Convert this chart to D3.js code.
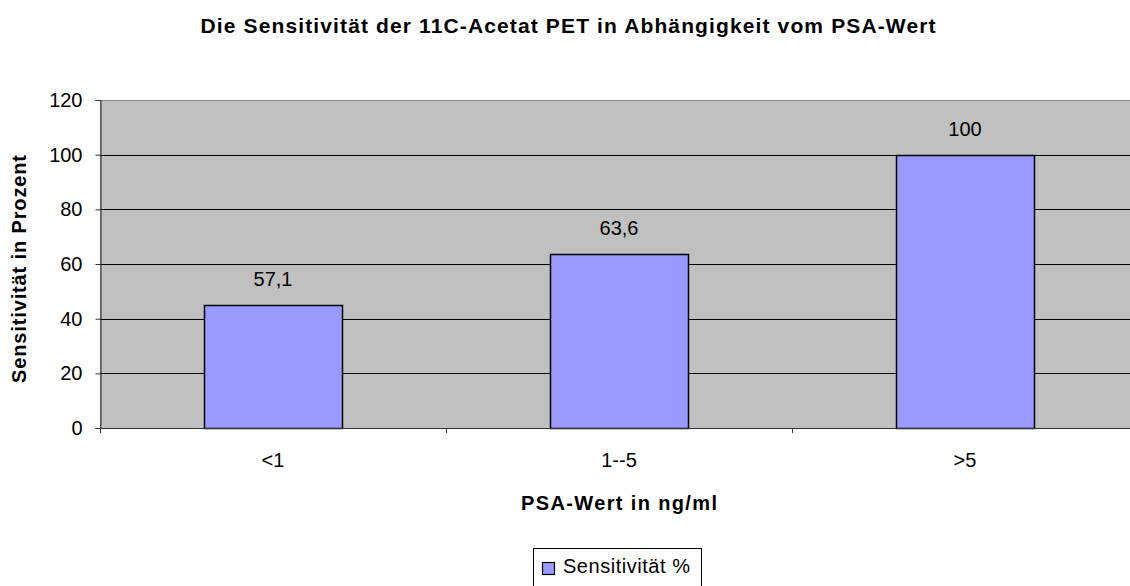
<!DOCTYPE html>
<html>
<head>
<meta charset="utf-8">
<script src="https://cdn.jsdelivr.net/npm/d3@7"></script>
<style>
  body { margin: 0; background: #fff; }
  svg { display: block; font-family: "Liberation Sans", Arial, sans-serif; }
</style>
</head>
<body>
<svg id="chart" width="1130" height="586"></svg>
<script>
// data
const categories = ['<1', '1--5', '>5'];
const barValues = [45, 63.6, 100];          // bar heights as drawn
const barLabels = ['57,1', '63,6', '100'];  // data labels as printed
const yTicks = [0, 20, 40, 60, 80, 100, 120];
const seriesName = 'Sensitivität %';

// layout
const PLOT_LEFT = 100;
const PLOT_RIGHT = 1138;   // plot area runs past the window edge
const PLOT_TOP = 100;
const PLOT_BOTTOM = 428;
const PLOT_BG = '#c0c0c0';
const BAR_FILL = '#9999ff';
const FONT_SIZE = 20;

const svg = d3.select('#chart');

const x = d3.scaleBand()
	.domain(categories)
	.range([PLOT_LEFT, PLOT_RIGHT])
	.paddingInner(0.6)
	.paddingOuter(0.3);

const y = d3.scaleLinear()
	.domain([0, 120])
	.range([PLOT_BOTTOM, PLOT_TOP]);

// plot background
svg.append('rect')
	.attr('x', PLOT_LEFT + 0.5)
	.attr('y', PLOT_TOP + 0.5)
	.attr('width', PLOT_RIGHT - PLOT_LEFT)
	.attr('height', PLOT_BOTTOM - PLOT_TOP)
	.attr('fill', PLOT_BG)
	.attr('stroke', '#888')
	.attr('stroke-width', 1);

// gridlines
svg.append('g')
	.selectAll('line')
	.data(yTicks.filter(d => d > 0 && d < 120))
	.join('line')
	.attr('x1', PLOT_LEFT)
	.attr('x2', PLOT_RIGHT)
	.attr('y1', d => Math.round(y(d)) + 0.5)
	.attr('y2', d => Math.round(y(d)) + 0.5)
	.attr('stroke', '#000')
	.attr('stroke-width', 1);

// bars
svg.append('g')
	.selectAll('rect')
	.data(categories)
	.join('rect')
	.attr('x', (d) => Math.round(x(d)) + 0.5)
	.attr('y', (d, i) => Math.round(y(barValues[i])) + 0.5)
	.attr('width', Math.round(x.bandwidth()))
	.attr('height', (d, i) => Math.round(y(0)) - Math.round(y(barValues[i])))
	.attr('fill', BAR_FILL)
	.attr('stroke', '#000')
	.attr('stroke-width', 1.5);

// bar labels
svg.append('g')
	.selectAll('text')
	.data(categories)
	.join('text')
	.attr('x', d => x(d) + x.bandwidth() / 2)
	.attr('y', (d, i) => y(barValues[i]) - 19)
	.attr('text-anchor', 'middle')
	.attr('font-size', FONT_SIZE)
	.attr('fill', '#000')
	.text((d, i) => barLabels[i]);

// y axis
const yAxis = svg.append('g')
	.attr('transform', `translate(${PLOT_LEFT + 0.5},0)`)
	.call(d3.axisLeft(y).tickValues(yTicks).tickSize(5).tickPadding(13));
yAxis.select('.domain').attr('stroke', '#333');
yAxis.selectAll('.tick line').attr('stroke', '#333');
yAxis.selectAll('text')
	.attr('font-size', FONT_SIZE)
	.attr('font-family', '"Liberation Sans", Arial, sans-serif')
	.attr('fill', '#000');

// x axis: ticks on category boundaries
const xAxisG = svg.append('g');
xAxisG.append('line')
	.attr('x1', PLOT_LEFT)
	.attr('x2', PLOT_RIGHT)
	.attr('y1', PLOT_BOTTOM + 0.5)
	.attr('y2', PLOT_BOTTOM + 0.5)
	.attr('stroke', '#333');
const step = x.step();
xAxisG.selectAll('line.tick')
	.data(d3.range(categories.length + 1))
	.join('line')
	.attr('class', 'tick')
	.attr('x1', i => Math.round(PLOT_LEFT + i * step) + 0.5)
	.attr('x2', i => Math.round(PLOT_LEFT + i * step) + 0.5)
	.attr('y1', PLOT_BOTTOM)
	.attr('y2', PLOT_BOTTOM + 5)
	.attr('stroke', '#333');
xAxisG.selectAll('text')
	.data(categories)
	.join('text')
	.attr('x', d => x(d) + x.bandwidth() / 2)
	.attr('y', 467)
	.attr('text-anchor', 'middle')
	.attr('font-size', FONT_SIZE)
	.text(d => d);

// title
svg.append('text')
	.attr('x', 568)
	.attr('y', 33)
	.attr('text-anchor', 'middle')
	.attr('font-size', 21)
	.attr('font-weight', 'bold')
	.attr('textLength', 735)
	.attr('lengthAdjust', 'spacing')
	.text('Die Sensitivität der 11C-Acetat PET in Abhängigkeit vom PSA-Wert');

// axis titles
svg.append('text')
	.attr('x', 619)
	.attr('y', 510)
	.attr('text-anchor', 'middle')
	.attr('font-size', 20)
	.attr('font-weight', 'bold')
	.attr('textLength', 196)
	.attr('lengthAdjust', 'spacing')
	.text('PSA-Wert in ng/ml');

svg.append('text')
	.attr('transform', 'translate(26,269) rotate(-90)')
	.attr('text-anchor', 'middle')
	.attr('font-size', 20)
	.attr('font-weight', 'bold')
	.attr('textLength', 228)
	.attr('lengthAdjust', 'spacing')
	.text('Sensitivität in Prozent');

// legend
const legend = svg.append('g');
legend.append('rect')
	.attr('x', 533.5)
	.attr('y', 548.5)
	.attr('width', 168)
	.attr('height', 45)
	.attr('fill', '#fff')
	.attr('stroke', '#000');
legend.append('rect')
	.attr('x', 542.5)
	.attr('y', 562.5)
	.attr('width', 12)
	.attr('height', 12)
	.attr('fill', BAR_FILL)
	.attr('stroke', '#000')
	.attr('stroke-width', 1.2);
legend.append('text')
	.attr('x', 563)
	.attr('y', 573)
	.attr('font-size', FONT_SIZE)
	.attr('textLength', 127)
	.attr('lengthAdjust', 'spacing')
	.text(seriesName);
</script>
</body>
</html>
